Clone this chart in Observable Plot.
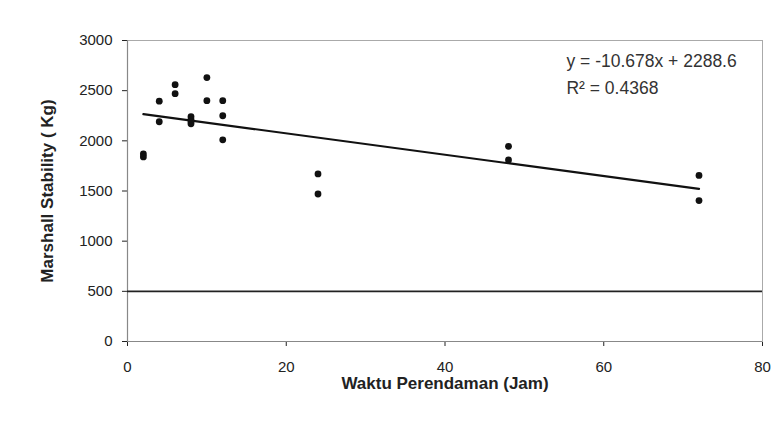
<!DOCTYPE html>
<html>
<head>
<meta charset="utf-8">
<script src="https://cdn.jsdelivr.net/npm/d3@7"></script>
<script src="https://cdn.jsdelivr.net/npm/@observablehq/plot@0.6"></script>
<style>
  html, body { margin: 0; padding: 0; background: #fff; }
  #chart svg { display: block; }
  g[aria-label="x-axis label"] text, g[aria-label="y-axis label"] text { font-weight: bold; font-size: 17px; }
</style>
</head>
<body>
<div id="chart"></div>
<script>
// Soaking time (hours)
const waktu = [2, 2, 4, 4, 6, 6, 8, 8, 8, 8, 10, 10, 12, 12, 12, 24, 24, 48, 48, 72, 72];
// Marshall stability (kg)
const stabilitas = [1870, 1840, 2395, 2190, 2560, 2470, 2240, 2210, 2190, 2170, 2630, 2400, 2400, 2250, 2010, 1670, 1470, 1945, 1810, 1655, 1405];
const batasMinimum = [500];
const xTicks = [0, 20, 40, 60, 80];
const yTicks = [0, 500, 1000, 1500, 2000, 2500, 3000];
const persamaan = ["y = -10.678x + 2288.6", "R² = 0.4368"];
const persamaanX = [55.3, 55.3];
const persamaanY = [2790, 2520];

const points = waktu.map((x, i) => ({x, y: stabilitas[i]}));
const notes = persamaan.map((t, i) => ({t, x: persamaanX[i], y: persamaanY[i]}));

const chart = Plot.plot({
  width: 777,
  height: 434,
  marginLeft: 127,
  marginRight: 15,
  marginTop: 40,
  marginBottom: 93,
  style: {fontFamily: "'Liberation Sans', Arial, sans-serif", fontSize: "15px", color: "#222", background: "#fff"},
  x: {domain: [0, 80], ticks: xTicks, tickFormat: d3.format("d"), label: "Waktu Perendaman (Jam)", labelAnchor: "center", labelArrow: "none", labelOffset: 47, tickSize: 5, tickPadding: 15},
  y: {domain: [0, 3000], ticks: yTicks, tickFormat: d3.format("d"), label: "Marshall Stability ( Kg)", labelAnchor: "center", labelArrow: "none", labelOffset: 87, tickSize: 5, tickPadding: 10},
  marks: [
    Plot.frame({stroke: "#aaa", strokeWidth: 1}),
    Plot.ruleX([0], {stroke: "#888", strokeWidth: 1.2}),
    Plot.ruleY([0], {stroke: "#888", strokeWidth: 1.2}),
    Plot.ruleY(batasMinimum, {stroke: "#222", strokeWidth: 1.6}),
    Plot.linearRegressionY(points, {x: "x", y: "y", ci: 0, stroke: "#111", strokeWidth: 2.2}),
    Plot.dot(points, {x: "x", y: "y", r: 3.4, fill: "#111", stroke: "none"}),
    Plot.text(notes, {x: "x", y: "y", text: "t", textAnchor: "start", fontSize: 17.5, fill: "#333"})
  ]
});
document.getElementById("chart").appendChild(chart);
</script>
</body>
</html>
